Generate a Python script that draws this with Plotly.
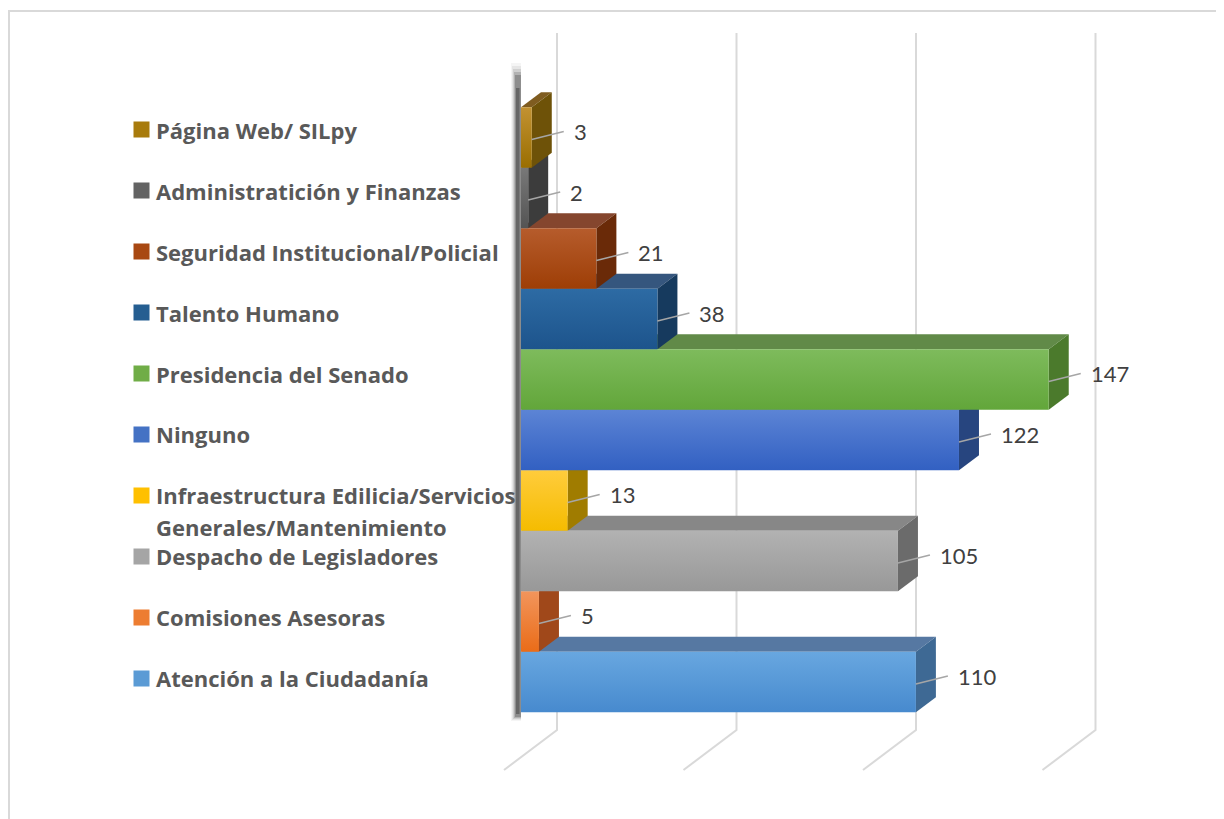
import plotly.graph_objects as go

# ---------------- data (bottom -> top) ----------------
categories = [
    "Atención a la Ciudadanía",
    "Comisiones Asesoras",
    "Despacho de Legisladores",
    "Infraestructura Edilicia/Servicios<br>Generales/Mantenimiento",
    "Ninguno",
    "Presidencia del Senado",
    "Talento Humano",
    "Seguridad Institucional/Policial",
    "Administratición y Finanzas",
    "Página Web/ SILpy",
]
values = [110, 5, 105, 13, 122, 147, 38, 21, 2, 3]
grid_values = [0, 50, 100, 150]

# ---------------- styles ----------------
front_light = ["#68A7E0", "#F2955C", "#B2B2B2", "#FFCC3C", "#5C84D5",
               "#7EBB5C", "#2D6BA4", "#B65C2C", "#787878", "#C29232"]
front_dark = ["#478ACE", "#EA6C18", "#989898", "#F5BC00", "#3260C2",
              "#62A63A", "#1D548C", "#9E3E06", "#545454", "#9A6E00"]
legend_colors = ["#5B9BD5", "#ED7D31", "#A5A5A5", "#FFC000", "#4472C4",
                 "#70AD47", "#255E91", "#A84812", "#636363", "#A87B0C"]
side_colors = ["#3E6994", "#A0481A", "#6B6B6B", "#A07C00", "#27457F",
               "#4B7A2C", "#163A5E", "#6A2A08", "#3C3C3C", "#6E5208"]
top_colors = ["#5678A2", "#B0603A", "#878787", "#B8962A", "#3A5C9A",
              "#618A48", "#35567E", "#85462E", "#555555", "#7F5C20"]

W, H = 1224, 819
OFF = 8        # page body margin: figure is drawn at (8, 8) on the page
# all pixel constants below are page (screenshot) pixels
PL, PR, PT, PB = 478, 1148, 33, 798
X0 = 521.0     # pixel of value 0 (front face)
SX = 3.59      # pixels per unit
Y0 = 682.0     # pixel of first category centre
SY = 60.5      # pixels per category

def dxu(px):
    return px / SX

def dyu(px):
    return px / SY

def yd(py):
    return (Y0 - py) / SY

def xp(px):
    return (px - PL) / (PR - PL)

def yp(py):
    return (PB - py) / (PB - PT)

DX = dxu(20)
DY = dyu(15)

fig = go.Figure()
# front faces of the bars (vertical gradient fill)
for c, v in enumerate(values):
    fig.add_trace(go.Scatter(
        x=[0, v, v, 0, 0], y=[c - 0.5, c - 0.5, c + 0.5, c + 0.5, c - 0.5],
        mode="lines", fill="toself", line=dict(width=0),
        fillgradient=dict(type="vertical",
                          colorscale=[[0, front_dark[c]], [1, front_light[c]]]),
        hoverinfo="skip", showlegend=False, name=categories[c],
    ))

shapes = []
# back-wall grid lines with floor diagonals
for g in grid_values:
    xb = g + dxu(36)
    xf = g + dxu(36 - 53)
    shapes.append(dict(type="path", xref="x", yref="y", layer="below",
                       path=f"M{xb},{yd(33)} L{xb},{yd(730)} L{xf},{yd(770)}",
                       line=dict(color="#D9D9D9", width=2)))

# left wall with soft shadow
for i, op in enumerate([0.05, 0.08, 0.13, 0.2, 0.3]):
    pad = 5 - i
    shapes.append(dict(type="rect", xref="x", yref="y", layer="below",
                       x0=dxu(-5 - pad), x1=0, y0=yd(716 + pad), y1=yd(78 - 3 * pad),
                       fillcolor=f"rgba(60,60,60,{op})", line=dict(width=0)))
shapes.append(dict(type="rect", xref="x", yref="y", layer="below",
                   x0=dxu(-5), x1=0, y0=yd(714), y1=yd(88),
                   fillcolor="#666666", line=dict(width=0)))
shapes.append(dict(type="rect", xref="x", yref="y", layer="below",
                   x0=dxu(-1.5), x1=0, y0=yd(714), y1=yd(88),
                   fillcolor="#8C8C8C", line=dict(width=0)))

# 3D top and side faces
for c, v in enumerate(values):
    yt = c + 0.5
    yb = c - 0.5
    shapes.append(dict(type="path", xref="x", yref="y", layer="between",
                       path=f"M0,{yt} L{v},{yt} L{v + DX},{yt + DY} L{DX},{yt + DY} Z",
                       fillcolor=top_colors[c], line=dict(width=0)))
    shapes.append(dict(type="path", xref="x", yref="y", layer="between",
                       path=f"M{v},{yb} L{v},{yt} L{v + DX},{yt + DY} L{v + DX},{yb + DY} Z",
                       fillcolor=side_colors[c], line=dict(width=0)))
    # leader line
    shapes.append(dict(type="line", xref="x", yref="y", layer="above",
                       x0=v, y0=c - dyu(2), x1=v + dxu(32), y1=c + dyu(6),
                       line=dict(color="#A6A6A6", width=1.5)))

# outer chart border (top and left visible)
shapes.append(dict(type="line", xref="paper", yref="paper", layer="above",
                   x0=xp(9), y0=yp(11), x1=xp(1240), y1=yp(11),
                   line=dict(color="#D9D9D9", width=2)))
shapes.append(dict(type="line", xref="paper", yref="paper", layer="above",
                   x0=xp(9), y0=yp(10), x1=xp(9), y1=yp(840),
                   line=dict(color="#D9D9D9", width=2)))

annotations = []
for c, (name, v) in enumerate(zip(categories, values)):
    shift = 4 + 0.4 * c
    annotations.append(dict(xref="paper", yref="y", x=xp(141), y=c, yshift=shift,
                            text=" ", showarrow=False, width=15, height=15,
                            bgcolor=legend_colors[c], borderpad=0,
                            xanchor="center", yanchor="middle",
                            font=dict(size=2)))
    for i, line in enumerate(name.split("<br>")):
        annotations.append(dict(xref="paper", yref="y", x=xp(154), y=c,
                                yshift=shift - 32 * i,
                                text=f"<b>{line}</b>", showarrow=False,
                                xanchor="left", yanchor="middle",
                                font=dict(family="Open Sans", size=22, color="#595959")))
    annotations.append(dict(xref="x", yref="y", x=v + dxu(40), y=c, yshift=6,
                            text=str(v), showarrow=False,
                            xanchor="left", yanchor="middle",
                            font=dict(family="Lato", size=22, color="#404040")))

fig.update_layout(
    width=W, height=H,
    margin=dict(l=PL - OFF, r=W - (PR - OFF), t=PT - OFF, b=H - (PB - OFF)),
    paper_bgcolor="white", plot_bgcolor="white",
    xaxis=dict(range=[(PL - X0) / SX, (PR - X0) / SX], showgrid=False,
               zeroline=False, showticklabels=False, showline=False, fixedrange=True),
    yaxis=dict(range=[yd(PB), yd(PT)], showgrid=False, zeroline=False,
               showticklabels=False, showline=False, fixedrange=True),
    shapes=shapes, annotations=annotations,
    showlegend=False,
)

fig.write_html("out.html")
